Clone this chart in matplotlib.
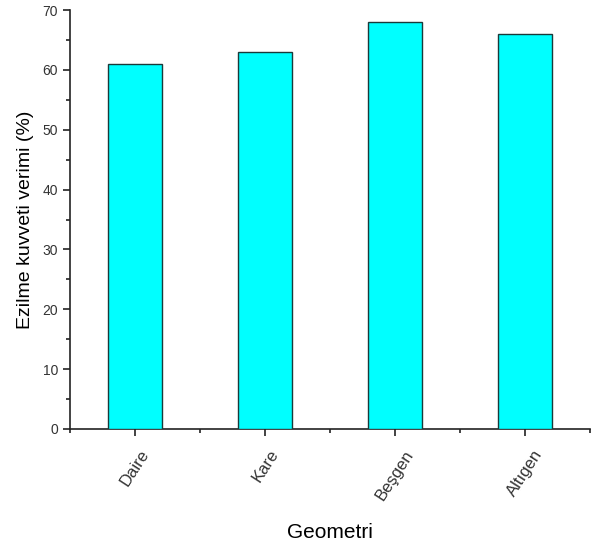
import matplotlib
matplotlib.use("Agg")
import matplotlib.pyplot as plt
import numpy as np

categories = ["Daire", "Kare", "Beşgen", "Altıgen"]
values = [61, 63, 68, 66]
yticks = [0, 10, 20, 30, 40, 50, 60, 70]

plt.rcParams['font.family'] = ['Liberation Sans', 'DejaVu Sans']

fig = plt.figure(figsize=(5.95, 5.47), dpi=100)
ax = fig.add_axes([70/595, 1-429/547, 520/595, 419/547])

x = np.arange(1, len(categories) + 1)
ax.bar(x, values, width=0.41, color='#00FFFF', edgecolor='#1a3a3a', linewidth=1.0, zorder=3)

ax.set_xlim(0.5, 4.5)
ax.set_ylim(0, 70)
ax.set_yticks(yticks)
ax.set_yticks(np.arange(5, 70, 10), minor=True)
ax.set_xticks(x)
ax.set_xticks(np.arange(0.5, 4.6, 1.0), minor=True)
ax.set_xticklabels(categories, rotation=57, ha='center', va='top', fontsize=12, color='#333333')
for lbl in ax.get_yticklabels():
    lbl.set_fontsize(10)
    lbl.set_color('#333333')

ax.spines['top'].set_visible(False)
ax.spines['right'].set_visible(False)
for s in ['left', 'bottom']:
    ax.spines[s].set_linewidth(1.2)
    ax.spines[s].set_color('#222222')

ax.tick_params(axis='both', which='major', direction='out', length=5, width=1.2, color='#222222')
ax.tick_params(axis='both', which='minor', direction='out', length=3, width=1.2, color='#222222')
ax.tick_params(axis='x', which='major', pad=8)

ax.set_ylabel("Ezilme kuvveti verimi (%)", fontsize=14, labelpad=6)
ax.set_xlabel("Geometri", fontsize=15, labelpad=15)

fig.savefig("out.png", dpi=100)
